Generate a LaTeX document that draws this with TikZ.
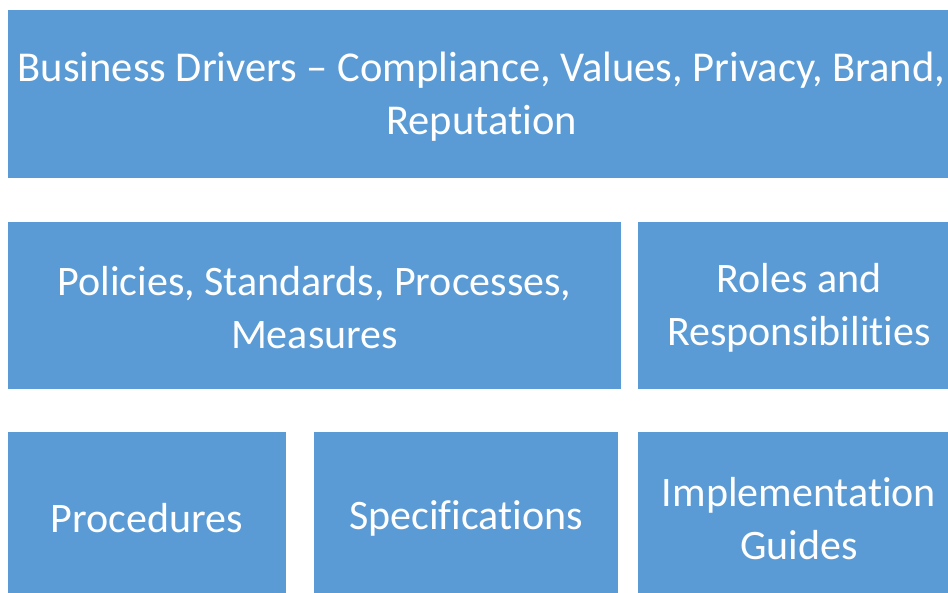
\documentclass[tikz,border=0pt]{standalone}
\usepackage{fontspec}
\setmainfont{Carlito}[Ligatures=NoCommon]
\definecolor{boxblue}{HTML}{5B9BD5}
\begin{document}
\begin{tikzpicture}[x=1pt,y=-1pt,
  box/.style={fill=boxblue, draw=none, inner sep=0pt},
  txt/.style={text=white, align=center, inner sep=0pt,
    font=\fontsize{42}{53}\selectfont}]
\useasboundingbox (0,0) rectangle (948,593);
\clip (0,0) rectangle (948,593);
\fill[white] (0,0) rectangle (948,593);
\node[box, minimum width=952pt, minimum height=168pt] (drivers) at (484,94) {};
\node[box, minimum width=613pt, minimum height=167pt] (policies) at (314.5,305.5) {};
\node[box, minimum width=322pt, minimum height=167pt] (roles) at (799,305.5) {};
\node[box, minimum width=278pt, minimum height=168pt] (procedures) at (147,516) {};
\node[box, minimum width=304pt, minimum height=168pt] (specs) at (466,516) {};
\node[box, minimum width=322pt, minimum height=168pt] (guides) at (799,516) {};
\node[txt, font=\fontsize{42.5}{53}\selectfont] (driverstext) at ([yshift=-2.5pt,xshift=-2.5pt]drivers.center)
  {Business Drivers -- Compliance, Values, Privacy, Brand,\\Reputation};
\node[txt] (policiestext) at ([yshift=-2.5pt]policies.center)
  {Policies, Standards, Processes,\\Measures};
\node[txt] (rolestext) at ([yshift=-2.5pt]roles.center)
  {Roles and\\Responsibilities};
\node[txt] (procedurestext) at ([yshift=-2.5pt]procedures.center) {Procedures};
\node[txt] (specstext) at ([yshift=-2.5pt]specs.center) {Specifications};
\node[txt] (guidestext) at ([yshift=-2.5pt]guides.center)
  {Implementation\\Guides};
\end{tikzpicture}
\end{document}
